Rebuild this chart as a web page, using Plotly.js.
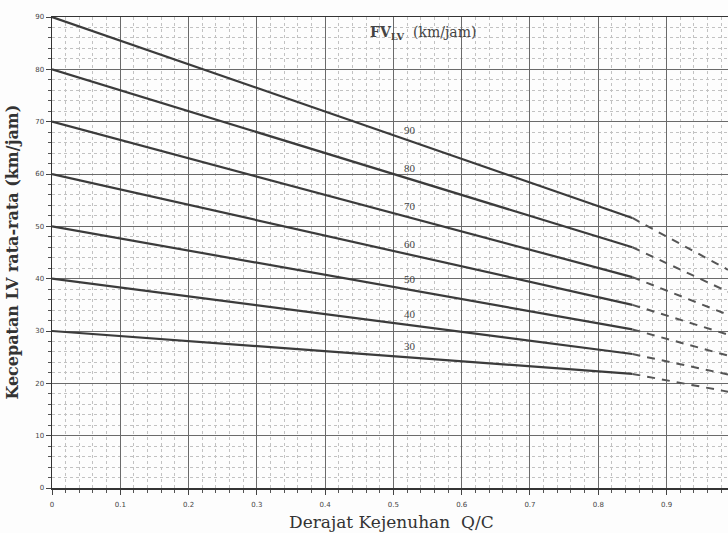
<!DOCTYPE html>
<html><head><meta charset="utf-8">
<script src="https://cdn.plot.ly/plotly-3.0.1.min.js"></script>
<style>html,body{margin:0;padding:0;background:#fff}</style>
</head><body><div id="chart" style="width:728px;height:533px"></div>
<script>
// Free-flow speed curves FV_LV (km/jam)
const curveLabels = ['90','80','70','60','50','40','30'];
const speedAtZero = [90, 80, 70, 60, 50, 40, 30];
const solidQC = [0, 0.85];
const speedAt085 = [51.6, 46.0, 40.3, 35.0, 30.3, 25.6, 21.8];
const dashQC = [0.85, 0.99];
const speedAt099 = [41.7, 37.5, 33.1, 29.3, 25.3, 21.7, 18.4];
const xTickVals = [0, 0.1, 0.2, 0.3, 0.4, 0.5, 0.6, 0.7, 0.8, 0.9];
const xTickText = ['0', '0.1', '0.2', '0.3', '0.4', '0.5', '0.6', '0.7', '0.8', '0.9'];
const yTickVals = [0, 10, 20, 30, 40, 50, 60, 70, 80, 90];
const yTickText = ['0', '10', '20', '30', '40', '50', '60', '70', '80', '90'];
const labelQC = 0.524;

const lineColor = '#3b3b3b';
const traces = [];
for (let i = 0; i < curveLabels.length; i++) {
  traces.push({
    x: solidQC, y: [speedAtZero[i], speedAt085[i]],
    mode: 'lines', line: {color: lineColor, width: 2.2},
    showlegend: false, hoverinfo: 'skip'
  });
  traces.push({
    x: dashQC, y: [speedAt085[i], speedAt099[i]],
    mode: 'lines', line: {color: '#555', width: 2, dash: '8px,7px'},
    showlegend: false, hoverinfo: 'skip'
  });
}

const annotations = curveLabels.map((t, i) => {
  const yv = speedAtZero[i] + (speedAt085[i] - speedAtZero[i]) * (labelQC - solidQC[0]) / (solidQC[1] - solidQC[0]);
  return {x: labelQC, y: yv, xref: 'x', yref: 'y', text: t, showarrow: false,
    yshift: 11, xanchor: 'center', yanchor: 'middle',
    font: {family: 'Liberation Serif, serif', size: 11, color: '#444'}};
});
annotations.push({x: 0.463, y: 87, xref: 'x', yref: 'y', xanchor: 'left', yanchor: 'middle',
  text: '<b>FV<sub>LV</sub></b>  (km/jam)', showarrow: false,
  font: {family: 'DejaVu Serif, serif', size: 14, color: '#444'}});
annotations.push({x: -0.059, y: 0.5, xref: 'paper', yref: 'paper', xanchor: 'center', yanchor: 'middle',
  text: '<b>Kecepatan LV rata-rata (km/jam)</b>', textangle: -90, showarrow: false,
  font: {family: 'DejaVu Serif, serif', size: 16, color: '#333'}});
annotations.push({x: 0.502, y: -0.072, xref: 'paper', yref: 'paper', xanchor: 'center', yanchor: 'middle',
  text: 'Derajat Kejenuhan  Q/C', showarrow: false,
  font: {family: 'DejaVu Serif, serif', size: 17, color: '#333'}});

const layout = {
  width: 728, height: 533,
  margin: {l: 52, r: 0, t: 17, b: 45},
  paper_bgcolor: '#fdfdfd', plot_bgcolor: '#fdfdfd',
  showlegend: false,
  xaxis: {
    range: [0, 0.99], tickvals: xTickVals, ticktext: xTickText,
    ticks: 'outside', ticklen: 5, tickcolor: '#444', ticklabelstandoff: 4,
    showline: true, linecolor: '#333', linewidth: 1.5, mirror: true,
    showgrid: true, gridcolor: '#6a6a6a', gridwidth: 1, zeroline: false,
    tickfont: {family: 'DejaVu Sans, sans-serif', size: 7, color: '#444'},
    minor: {tick0: 0, dtick: 0.02, ticks: 'outside', ticklen: 3, tickcolor: '#555',
      showgrid: true, gridcolor: '#c2c2c2', gridwidth: 1, griddash: 'dot'}
  },
  yaxis: {
    range: [0, 90], tickvals: yTickVals, ticktext: yTickText,
    ticks: 'outside', ticklen: 5, tickcolor: '#444',
    showline: true, linecolor: '#333', linewidth: 1.5,
    showgrid: true, gridcolor: '#6a6a6a', gridwidth: 1, zeroline: false,
    tickfont: {family: 'DejaVu Sans, sans-serif', size: 7, color: '#444'},
    minor: {tick0: 0, dtick: 2, ticks: 'outside', ticklen: 3, tickcolor: '#555',
      showgrid: true, gridcolor: '#c2c2c2', gridwidth: 1, griddash: 'dot'}
  },
  annotations: annotations
};

Plotly.newPlot('chart', traces, layout, {staticPlot: true, displayModeBar: false});
</script></body></html>
